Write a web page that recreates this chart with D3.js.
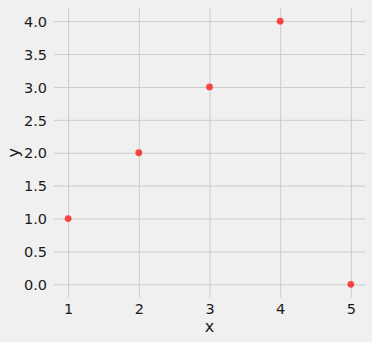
<!DOCTYPE html>
<html>
<head>
<meta charset="utf-8">
<script src="https://cdn.jsdelivr.net/npm/d3@7"></script>
<style>
  html, body { margin: 0; padding: 0; background: #f0f0f0; }
  svg { display: block; font-family: "DejaVu Sans", sans-serif; }
</style>
</head>
<body>
<svg id="chart" width="372" height="342"></svg>
<script>
// data
var xValues = [1, 2, 3, 4, 5];
var yValues = [1, 2, 3, 4, 0];
var xTicks = [1, 2, 3, 4, 5];
var yTicks = [0, 0.5, 1, 1.5, 2, 2.5, 3, 3.5, 4];

var svg = d3.select("#chart");
var W = 372, H = 342;
var margin = { top: 8, right: 7, bottom: 44.5, left: 54 };
var width = W - margin.left - margin.right;
var height = H - margin.top - margin.bottom;

svg.append("rect").attr("width", W).attr("height", H).attr("fill", "#f0f0f0");

var x = d3.scaleLinear().domain([0.8, 5.2]).range([0, width]);
var y = d3.scaleLinear().domain([-0.2, 4.2]).range([height, 0]);

var body = svg.append("g")
	.attr("transform", "translate(" + margin.left + "," + margin.top + ")");

// grid (drawn with the axes, tick lines stretched across)
var gx = body.append("g")
	.attr("transform", "translate(0," + height + ")")
	.call(d3.axisBottom(x).tickValues(xTicks).tickSize(0)
		.tickFormat(d3.format("d")));
gx.selectAll(".tick line").attr("y1", 0).attr("y2", -height);
gx.selectAll(".tick text").attr("dy", 0).attr("y", 16);

var gy = body.append("g")
	.call(d3.axisLeft(y).tickValues(yTicks).tickSize(-width)
		.tickFormat(d3.format(".1f")));

[gx, gy].forEach(function(g) {
	g.select(".domain").remove();
	g.selectAll(".tick line").attr("stroke", "#cbcbcb").attr("stroke-width", 1);
	g.selectAll(".tick text").attr("fill", "#1a1a1a")
		.attr("font-size", 14.5).attr("font-family", "DejaVu Sans, sans-serif");
});
gy.selectAll(".tick text").attr("x", -7).attr("dy", "0.36em");

// points
body.append("g").selectAll("circle")
	.data(xValues.map(function(v, i) { return [v, yValues[i]]; }))
	.enter().append("circle")
	.attr("cx", function(d) { return x(d[0]); })
	.attr("cy", function(d) { return y(d[1]); })
	.attr("r", 3.4)
	.attr("fill", "#ff0000")
	.attr("fill-opacity", 0.7);

// axis labels
svg.append("text")
	.attr("x", margin.left + width / 2).attr("y", 331.5)
	.attr("text-anchor", "middle")
	.attr("font-size", 16).attr("fill", "#1a1a1a")
	.text("x");
svg.append("text")
	.attr("transform", "translate(18.5," + (margin.top + height / 2) + ") rotate(-90)")
	.attr("text-anchor", "middle")
	.attr("font-size", 16).attr("fill", "#1a1a1a")
	.text("y");
</script>
</body>
</html>
